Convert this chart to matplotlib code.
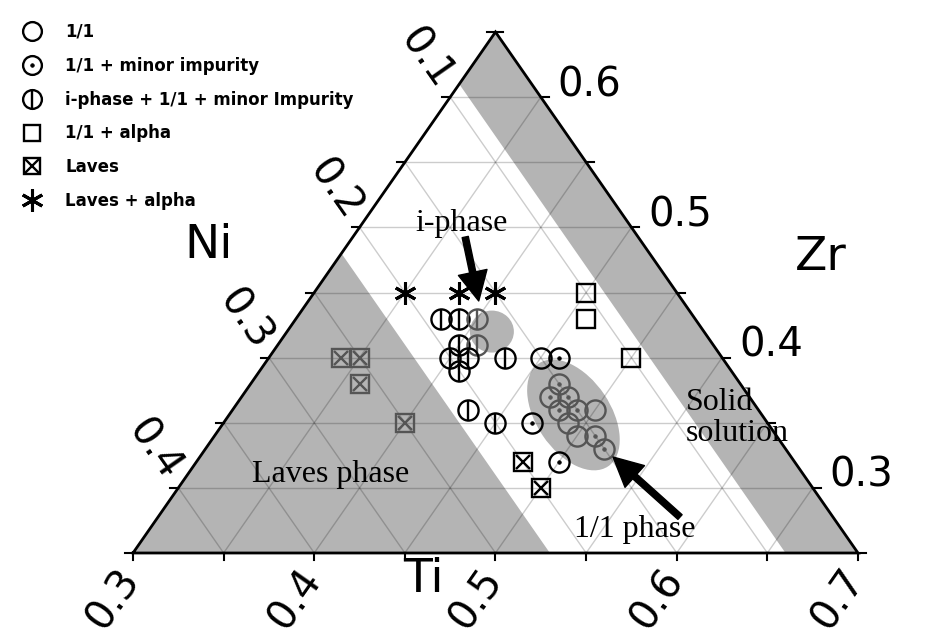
import numpy as np
import matplotlib.pyplot as plt
from matplotlib.patches import Polygon, Ellipse
from matplotlib.lines import Line2D

# composition window: Ti 0.30-0.70, Ni 0.05-0.45, Zr 0.25-0.65
TI_MIN, NI_MIN, ZR_MIN, SPAN = 0.30, 0.05, 0.25, 0.40
W, H = 725.0, 521.0   # triangle base / height in pixels

# samples as (Ti, Zr); Ni = 1 - Ti - Zr
phase11_ti = [0.45, 0.50, 0.49, 0.50]
phase11_zr = [0.40, 0.36, 0.35, 0.34]
minor_ti = [0.46, 0.47, 0.50, 0.47, 0.47, 0.48, 0.48, 0.49, 0.51, 0.52]
minor_zr = [0.40, 0.35, 0.32, 0.38, 0.37, 0.37, 0.36, 0.36, 0.34, 0.33]
iphase_ti = [0.38, 0.39, 0.40, 0.40, 0.41, 0.40, 0.41, 0.41, 0.43, 0.43, 0.45]
iphase_zr = [0.43, 0.43, 0.43, 0.41, 0.41, 0.40, 0.40, 0.39, 0.40, 0.36, 0.35]
alpha_ti = [0.45, 0.46, 0.50]
alpha_zr = [0.45, 0.43, 0.40]
laves_ti = [0.34, 0.35, 0.36, 0.40, 0.48, 0.50]
laves_zr = [0.40, 0.40, 0.38, 0.35, 0.32, 0.30]
lavesalpha_ti = [0.35, 0.38, 0.40]
lavesalpha_zr = [0.45, 0.45, 0.45]

# shaded regions
laves_ni = 0.22          # Laves phase: Ni above this
solid_ni = 0.09          # solid solution: Ni below this
iphase_blob = (0.413, 0.420)
cluster11 = (0.490, 0.356)

legend_labels = ["1/1", "1/1 + minor impurity", "i-phase + 1/1 + minor Impurity",
                 "1/1 + alpha", "Laves", "Laves + alpha"]
tick_vals = [0.1, 0.2, 0.3, 0.4, 0.5, 0.6, 0.7]


def tern(ti, zr):
    ti = np.asarray(ti, float)
    zr = np.asarray(zr, float)
    v = (zr - ZR_MIN) / SPAN
    u = (ti - TI_MIN) / SPAN + 0.5 * v
    return W * u, H * v


def pt(ti, zr):
    x, y = tern(ti, zr)
    return float(x), float(y)


fig = plt.figure(figsize=(9.53, 6.35), dpi=100)
ax = fig.add_axes([0, 0, 1, 1])
ax.set_xlim(-133, 820)
ax.set_ylim(-82, 553)
ax.axis("off")

GRAY = "#b4b4b4"
DARK = "#555555"

ti_max = 1 - NI_MIN - ZR_MIN
zr_max = 1 - NI_MIN - TI_MIN

# gray regions
laves = Polygon([pt(TI_MIN, ZR_MIN), pt(TI_MIN, 1 - TI_MIN - laves_ni),
                 pt(1 - laves_ni - ZR_MIN, ZR_MIN)], closed=True, fc=GRAY, ec="none", zorder=1)
solid = Polygon([pt(TI_MIN, zr_max), pt(ti_max, ZR_MIN), pt(1 - solid_ni - ZR_MIN, ZR_MIN),
                 pt(TI_MIN, 1 - TI_MIN - solid_ni)], closed=True, fc=GRAY, ec="none", zorder=1)
blob = Ellipse(pt(*iphase_blob), 44, 42, fc=GRAY, ec="none", zorder=1)
ell = Ellipse(pt(*cluster11), 124, 74, angle=-56, fc=GRAY, ec="none", zorder=1)
shades = [laves, solid, blob, ell]
for p in shades:
    ax.add_patch(p)
shade_paths = [p.get_patch_transform().transform_path(p.get_path()) for p in shades]

# grid every 0.05
for k in range(1, 8):
    c = 0.05 * k
    z = ZR_MIN + c
    ax.plot(*tern([TI_MIN, 1 - NI_MIN - z], [z, z]), color="k", alpha=0.2, lw=1, zorder=2)
    t = TI_MIN + c
    ax.plot(*tern([t, t], [ZR_MIN, 1 - NI_MIN - t]), color="k", alpha=0.2, lw=1, zorder=2)
    n = NI_MIN + c
    ax.plot(*tern([TI_MIN, 1 - n - ZR_MIN], [1 - TI_MIN - n, ZR_MIN]), color="k", alpha=0.2, lw=1, zorder=2)

# frame
ax.plot(*tern([TI_MIN, ti_max, TI_MIN, TI_MIN], [ZR_MIN, ZR_MIN, zr_max, ZR_MIN]),
        color="k", lw=2, zorder=3, solid_joinstyle="miter")

# ticks and tick labels
tfont = dict(fontsize=29, family="DejaVu Sans", zorder=5)
for k in range(9):
    c = 0.05 * k
    x, y = pt(TI_MIN + c, ZR_MIN)
    ax.plot([x, x], [y, y - 7], color="k", lw=1.5, zorder=3)
    x, y = pt(1 - NI_MIN - ZR_MIN - c, ZR_MIN + c)
    ax.plot([x, x + 8], [y, y], color="k", lw=1.5, zorder=3)
    x, y = pt(TI_MIN, 1 - TI_MIN - NI_MIN - c)
    ax.plot([x, x - 8], [y, y], color="k", lw=1.5, zorder=3)

for val in tick_vals:
    if TI_MIN - 1e-9 <= val <= ti_max + 1e-9:
        x, y = pt(val, ZR_MIN)
        ax.text(x - 1, y - 20, f"{val:.1f}", rotation=55, rotation_mode="anchor",
                ha="right", va="center", **tfont)
    if 0.29 < val < zr_max - 0.01:
        x, y = pt(1 - NI_MIN - val, val)
        ax.text(x + 17, y + 1, f"{val:.1f}", ha="left", va="baseline", **tfont)
    if NI_MIN + 0.01 < val < 1 - TI_MIN - ZR_MIN:
        x, y = pt(TI_MIN, 1 - TI_MIN - val)
        ax.text(x - 6, y + 12, f"{val:.1f}", rotation=-55, rotation_mode="anchor",
                ha="right", va="center", **tfont)

# axis titles
ax.text(209 - 133, 553 - 245, "Ni", fontsize=34, ha="center", va="center")
ax.text(821 - 133, 553 - 257, "Zr", fontsize=34, ha="center", va="center")
ax.text(423 - 133, 553 - 580, "Ti", fontsize=34, ha="center", va="center")


def color_for(x, y):
    for p in shade_paths:
        if p.contains_point((x, y)):
            return DARK
    return "k"


def scatter(ti, zr, layers):
    xs, ys = tern(ti, zr)
    for x, y in zip(xs, ys):
        col = color_for(x, y)
        for kw in layers:
            kw = dict(kw)
            if kw.get("mfc") != "none":
                kw["mfc"] = col
            ax.plot(x, y, ls="none", mec=col, zorder=4, **kw)


CIRC = dict(marker="o", ms=14.5, mfc="none", mew=1.7)
DOT = dict(marker="o", ms=2.6, mew=0.5)
VBAR = dict(marker="|", ms=14.5, mew=1.7)
SQ = dict(marker="s", ms=12.5, mfc="none", mew=1.7)
XX = dict(marker="x", ms=10, mew=1.7)
AST = dict(marker=(6, 2, 0), ms=16, mew=2.2)

scatter(phase11_ti, phase11_zr, [CIRC])
scatter(minor_ti, minor_zr, [CIRC, DOT])
scatter(iphase_ti, iphase_zr, [CIRC, VBAR])
scatter(alpha_ti, alpha_zr, [SQ])
scatter(laves_ti, laves_zr, [SQ, XX])
scatter(lavesalpha_ti, lavesalpha_zr, [AST])

# annotations
sfont = dict(family="Liberation Serif", fontsize=23, zorder=6)
ax.text(*pt(0.355, 0.503), "i-phase", ha="center", va="center", **sfont)
ax.text(*pt(0.379, 0.310), "Laves phase", ha="center", va="center", **sfont)
ax.text(*pt(0.568, 0.268), "1/1 phase", ha="center", va="center", **sfont)
ax.text(*pt(0.5533, 0.3536), "Solid\nsolution", ha="left", va="center", linespacing=1.1, **sfont)

arrow = dict(arrowstyle="simple,head_width=2.1,head_length=2.1,tail_width=0.45",
             fc="k", ec="k", shrinkA=0, shrinkB=0, mutation_scale=10)
ax.annotate("", xy=pt(0.394, 0.4435), xytext=pt(0.362, 0.4926), arrowprops=arrow, zorder=6)
ax.annotate("", xy=pt(0.528, 0.3237), xytext=pt(0.588, 0.2776), arrowprops=arrow, zorder=6)

# legend
def h(**kw):
    return Line2D([], [], ls="none", color="k", mec="k", **kw)

lg = dict(CIRC, ms=13.5)
handles = [h(**lg),
           (h(**lg), h(**DOT)),
           (h(**lg), h(**dict(VBAR, ms=13.5))),
           h(**dict(SQ, ms=12)),
           (h(**dict(SQ, ms=12)), h(**XX)),
           h(**AST)]
fig.legend(handles, legend_labels, loc="upper left", bbox_to_anchor=(7 / 953, 1 - 8 / 635),
           frameon=False, prop=dict(weight="bold", size=12), handlelength=1.2,
           handletextpad=1.4, labelspacing=0.95, borderpad=0.6, borderaxespad=0.3)

fig.savefig("out.png", dpi=100, facecolor="white")
